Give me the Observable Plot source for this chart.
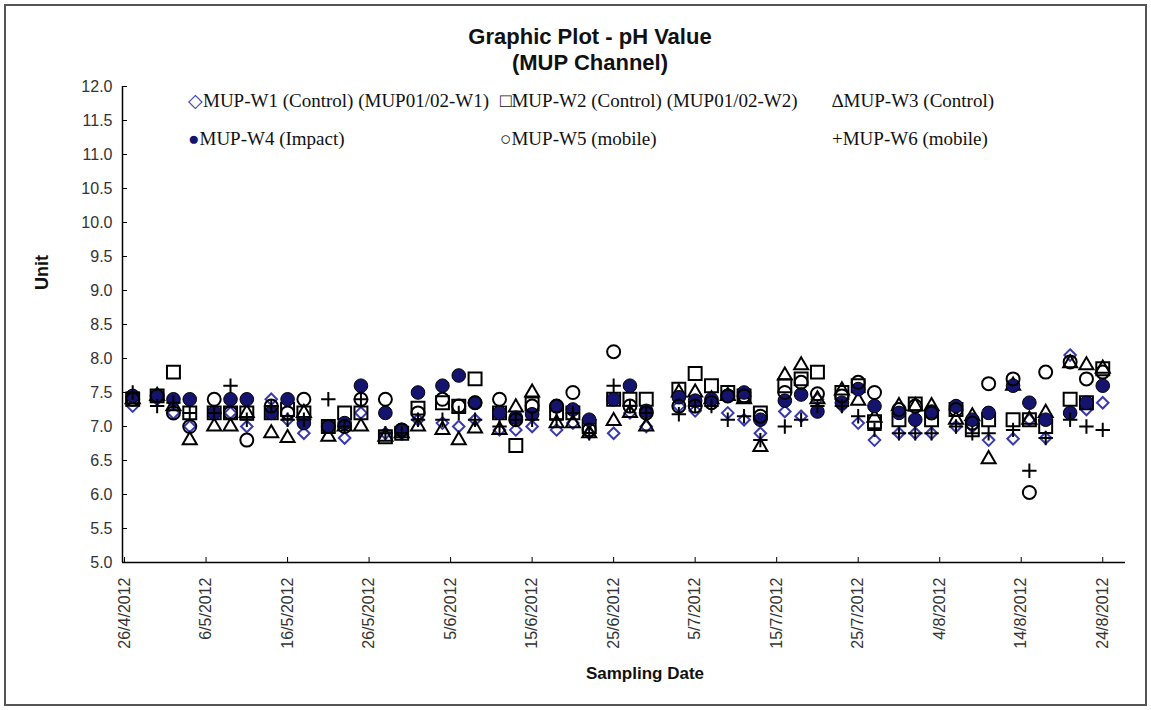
<!DOCTYPE html>
<html>
<head>
<meta charset="utf-8">
<script src="https://cdn.jsdelivr.net/npm/d3@7"></script>
<script src="https://cdn.jsdelivr.net/npm/@observablehq/plot@0.6"></script>
<style>
  body { margin: 0; background: #fff; }
  #wrap { position: relative; width: 1151px; height: 710px; overflow: hidden; background: #fff; font-family: Arial, "Liberation Sans", sans-serif; }
  #border { position: absolute; left: 4px; top: 4px; width: 1143px; height: 702px; border: 2px solid #555; box-sizing: border-box; }
  #chart { position: absolute; left: 0; top: 0; }
  .title { position: absolute; left: 390px; width: 400px; text-align: center; font-weight: bold; font-size: 22px; line-height: 26px; color: #111; white-space: nowrap; }
  .leg { position: absolute; font-family: "Liberation Serif", "Times New Roman", serif; font-size: 19px; line-height: 22px; color: #111; white-space: nowrap; }
  .axlab { position: absolute; font-weight: bold; color: #111; white-space: nowrap; }
</style>
</head>
<body>
<div id="wrap">
  <div id="border"></div>
  <div id="chart"></div>
  <div class="title" style="top:24px">Graphic Plot - pH Value</div>
  <div class="title" style="top:50px">(MUP Channel)</div>
  <div class="leg" style="left:188px;top:90px"><span style="color:#3a3ab0">◇</span>MUP-W1 (Control) (MUP01/02-W1)</div>
  <div class="leg" style="left:500px;top:90px">□MUP-W2 (Control) (MUP01/02-W2)</div>
  <div class="leg" style="left:832px;top:90px">∆MUP-W3 (Control)</div>
  <div class="leg" style="left:188px;top:128px"><span style="color:#14146e">●</span>MUP-W4 (Impact)</div>
  <div class="leg" style="left:500px;top:128px">○MUP-W5 (mobile)</div>
  <div class="leg" style="left:832px;top:128px">+MUP-W6 (mobile)</div>
  <div class="axlab" style="left:22px;top:262px;width:40px;text-align:center;font-size:18px;transform:rotate(-90deg);">Unit</div>
  <div class="axlab" style="left:545px;top:664px;width:200px;text-align:center;font-size:17px;">Sampling Date</div>
</div>
<script>
const dates = ["2012-04-27","2012-04-30","2012-05-02","2012-05-04","2012-05-07","2012-05-09","2012-05-11","2012-05-14","2012-05-16","2012-05-18","2012-05-21","2012-05-23","2012-05-25","2012-05-28","2012-05-30","2012-06-01","2012-06-04","2012-06-06","2012-06-08","2012-06-11","2012-06-13","2012-06-15","2012-06-18","2012-06-20","2012-06-22","2012-06-25","2012-06-27","2012-06-29","2012-07-03","2012-07-05","2012-07-07","2012-07-09","2012-07-11","2012-07-13","2012-07-16","2012-07-18","2012-07-20","2012-07-23","2012-07-25","2012-07-27","2012-07-30","2012-08-01","2012-08-03","2012-08-06","2012-08-08","2012-08-10","2012-08-13","2012-08-15","2012-08-17","2012-08-20","2012-08-22","2012-08-24"];

const w1 = [7.3,7.4,7.2,7.0,7.2,7.2,7.0,7.4,7.1,6.9,7.0,6.83,7.2,6.9,6.9,7.1,7.05,7.0,7.1,6.95,6.95,7.0,6.95,7.05,6.9,6.9,7.2,7.0,7.3,7.23,7.4,7.2,7.1,6.9,7.22,7.15,7.4,7.3,7.05,6.8,6.9,6.9,6.9,7.0,7.0,6.8,6.82,7.1,6.83,8.05,7.25,7.35];
const w2 = [7.4,7.45,7.8,7.2,7.2,7.2,7.2,7.2,7.25,7.2,7.0,7.2,7.2,6.85,6.9,7.27,7.35,7.3,7.7,7.2,6.72,7.33,7.2,7.2,7.0,7.4,7.4,7.4,7.55,7.78,7.6,7.5,7.45,7.2,7.6,7.7,7.8,7.5,7.6,7.07,7.1,7.33,7.1,7.25,6.95,7.1,7.1,7.1,7.0,7.4,7.35,7.85];
const w3 = [7.4,7.45,7.3,6.8,7.0,7.0,7.2,6.9,6.83,7.2,6.85,7.0,7.0,6.85,6.9,7.0,6.95,6.8,6.97,6.95,7.28,7.5,7.05,7.05,6.9,7.08,7.2,7.0,7.5,7.5,7.4,7.45,7.4,6.7,7.75,7.9,7.4,7.53,7.38,7.13,7.3,7.3,7.3,7.1,7.15,6.52,7.6,7.1,7.2,7.93,7.9,7.85];
const w4 = [7.45,7.45,7.4,7.4,7.2,7.4,7.4,7.2,7.4,7.05,7.0,7.05,7.6,7.2,6.95,7.5,7.6,7.75,7.35,7.2,7.13,7.18,7.3,7.25,7.1,7.4,7.6,7.23,7.43,7.38,7.4,7.45,7.5,7.1,7.38,7.47,7.22,7.35,7.55,7.3,7.2,7.1,7.22,7.3,7.1,7.2,7.6,7.35,7.1,7.2,7.35,7.6];
const w5 = [7.4,7.45,7.2,7.0,7.4,7.2,6.8,7.3,7.2,7.4,7.0,7.0,7.4,7.4,6.95,7.2,7.4,7.3,7.35,7.4,7.1,7.3,7.3,7.5,6.95,8.1,7.3,7.2,7.3,7.3,7.35,7.45,7.45,7.15,7.5,7.65,7.48,7.45,7.65,7.5,7.25,7.3,7.2,7.25,7.05,7.63,7.7,6.03,7.8,7.95,7.7,7.8];
const w6 = [7.5,7.3,7.35,7.2,7.2,7.6,7.1,7.3,7.1,7.1,7.4,7.0,7.4,6.9,6.9,7.1,7.1,7.2,7.1,7.0,7.1,7.1,7.1,7.2,6.9,7.6,7.3,7.2,7.18,7.3,7.3,7.1,7.15,6.8,7.0,7.1,7.3,7.3,7.15,6.95,6.9,6.9,6.9,7.0,6.9,6.9,6.95,6.35,6.83,7.1,7.0,6.95];

const xTickLabels = ["2012-04-26","2012-05-06","2012-05-16","2012-05-26","2012-06-05","2012-06-15","2012-06-25","2012-07-05","2012-07-15","2012-07-25","2012-08-04","2012-08-14","2012-08-24"];
const yTickValues = [5,5.5,6,6.5,7,7.5,8,8.5,9,9.5,10,10.5,11,11.5,12];

const parse = d3.utcParse("%Y-%m-%d");
const xTicks = xTickLabels.map(parse);
const xDomain = [new Date(Date.UTC(2012,3,25,18)), new Date(Date.UTC(2012,7,26,19))];
const rows = (vals) => dates.map((d, i) => ({date: parse(d), v: vals[i]}));
const fmtDate = d => `${d.getUTCDate()}/${d.getUTCMonth()+1}/${d.getUTCFullYear()}`;

const chart = Plot.plot({
  width: 1151,
  height: 710,
  marginLeft: 122,
  marginRight: 26,
  marginTop: 86,
  marginBottom: 148,
  style: {background: "transparent", fontFamily: "Arial, 'Liberation Sans', sans-serif", fontSize: "16px", color: "#333"},
  x: {type: "utc", domain: xDomain},
  y: {domain: [5, 12]},
  marks: [
    Plot.axisY({ticks: yTickValues, tickFormat: d3.format(".1f"), tickSize: 0, tickPadding: 10, fill: "#333", label: null}),
    Plot.axisX({ticks: xTicks, tickFormat: fmtDate, tickRotate: -90, tickSize: 0, tickPadding: 15, fill: "#333", label: null}),
    Plot.tickX(xTicks, {x: d => d, insetTop: 471, stroke: "#000", strokeWidth: 1}),
    Plot.tickY(yTickValues, {y: d => d, insetRight: 998, stroke: "#000", strokeWidth: 1}),
    Plot.ruleY([5], {stroke: "#000", strokeWidth: 1.5}),
    Plot.ruleX([xDomain[0]], {stroke: "#000", strokeWidth: 1.5}),
    Plot.dot(rows(w1), {x: "date", y: "v", symbol: "diamond2", r: 5.2, stroke: "#3a3ab0", strokeWidth: 2, fill: "none"}),
    Plot.dot(rows(w2), {x: "date", y: "v", symbol: "square", r: 7.3, stroke: "#000", strokeWidth: 2, fill: "none"}),
    Plot.dot(rows(w3), {x: "date", y: "v", symbol: "triangle2", r: 6.7, stroke: "#000", strokeWidth: 2, fill: "none"}),
    Plot.dot(rows(w4), {x: "date", y: "v", symbol: "circle", r: 6.8, stroke: "#000", strokeWidth: 1, fill: "#14146e"}),
    Plot.dot(rows(w5), {x: "date", y: "v", symbol: "circle", r: 6.5, stroke: "#000", strokeWidth: 2, fill: "none"}),
    Plot.dot(rows(w6), {x: "date", y: "v", symbol: "plus", r: 4.7, stroke: "#000", strokeWidth: 2, fill: "none"})
  ]
});
document.getElementById("chart").appendChild(chart);
</script>
</body>
</html>
